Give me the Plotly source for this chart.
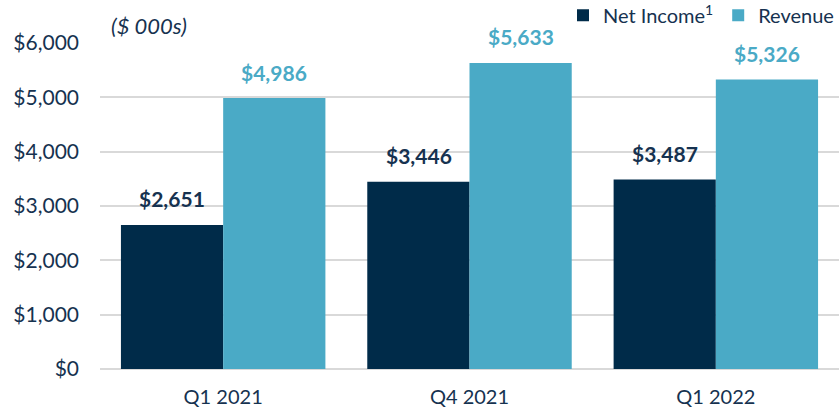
import plotly.graph_objects as go

categories = ["Q1 2021", "Q4 2021", "Q1 2022"]
net_income = [2651, 3446, 3487]
revenue = [4986, 5633, 5326]
y_ticks = [0, 1000, 2000, 3000, 4000, 5000, 6000]
y_tick_labels = ["$0", "$1,000", "$2,000", "$3,000", "$4,000", "$5,000", "$6,000"]

NAVY = "#002b49"
TEAL = "#4aaac6"
TEXT = "#163250"
FONT = "Lato"

fig = go.Figure()
fig.add_trace(go.Bar(
    x=categories, y=net_income, name="Net Income<sup>1</sup>",
    marker=dict(color=NAVY, line=dict(width=0)),
))
fig.add_trace(go.Bar(
    x=categories, y=revenue, name="Revenue",
    marker=dict(color=TEAL, line=dict(width=0)),
))

# value labels above each bar
for series, color, shift in [(net_income, TEXT, -51), (revenue, TEAL, 51)]:
    for cat, val in zip(categories, series):
        fig.add_annotation(x=cat, y=val, xref="x", yref="y", text=f"<b>${val:,.0f}</b>",
                           showarrow=False, xshift=shift, yshift=26, yanchor="middle",
                           font=dict(family=FONT, size=21, color=color))

fig.update_layout(
    width=840, height=411,
    margin=dict(l=100, r=1, t=43, b=42, autoexpand=False),
    barmode="group", bargap=0.17, bargroupgap=0,
    plot_bgcolor="white", paper_bgcolor="white",
    font=dict(family=FONT, size=20, color=TEXT),
    legend=dict(orientation="h", x=1.0, xanchor="right", y=1.025, yanchor="bottom",
                font=dict(family=FONT, size=20, color=TEXT),
                itemwidth=30, traceorder="normal", bgcolor="rgba(0,0,0,0)"),
    xaxis=dict(showgrid=False, showline=False, ticks="", tickfont=dict(size=20, color=TEXT),
               ticklabelstandoff=14),
    yaxis=dict(range=[0, 6000], tickvals=y_ticks, ticktext=y_tick_labels,
               showgrid=True, gridcolor="#d9d9d9", gridwidth=1.8,
               zeroline=True, zerolinecolor="#d9d9d9", zerolinewidth=1.8,
               tickfont=dict(size=21, color=TEXT), ticklabelstandoff=20),
    showlegend=True,
)
fig.add_annotation(text="<i>($ 000s)</i>", xref="paper", yref="paper",
                   x=0.012, y=1.0, xanchor="left", yanchor="bottom", yshift=2,
                   showarrow=False, font=dict(family=FONT, size=22, color=TEXT))

fig.write_html("out.html", config={"displayModeBar": False},
               post_script="document.body.style.margin='0';")
